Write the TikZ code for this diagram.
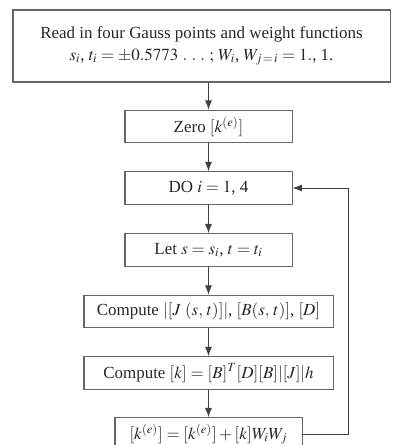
\documentclass[tikz,border=0pt]{standalone}
\usepackage{mathptmx}
\usepackage{fontspec}
\setmainfont{Liberation Serif}
\usetikzlibrary{arrows.meta}

\begin{document}
\begin{tikzpicture}[x=0.0224cm, y=-0.0224cm,
    flowbox/.style={draw=black!60, line width=0.65pt, align=center, inner sep=2pt, text=black!85,
                    font=\fontsize{10.8}{14}\selectfont},
    flowarrow/.style={draw=black!75, line width=0.6pt, -{Latex[length=6pt,width=4.5pt]}}]
              \useasboundingbox (0,0) rectangle (393,445);

              % boxes, top to bottom
              \node [flowbox, minimum width=8.445cm, minimum height=1.613cm] (read) at (201.5,46)
                {Read in four Gauss points and weight functions\\
                 $s_i$, $t_i = \pm 0.5773\ .\ .\ .\ ;$ $W_i$, $W_{j\,=\,i} = 1.$, 1.};
              \node [flowbox, minimum width=3.741cm, minimum height=0.728cm] (zero) at (208.5,126.5) {Zero $[k^{(e)}]$};
              \node [flowbox, minimum width=3.741cm, minimum height=0.728cm] (doloop) at (208.5,188) {DO $i = 1$, 4};
              \node [flowbox, minimum width=3.741cm, minimum height=0.728cm] (let) at (208.5,250) {Let $s = s_i$, $t = t_i$};
              \node [flowbox, minimum width=5.578cm, minimum height=0.728cm] (jacob) at (208.5,311.5)
                {Compute $|[J\ (s,\,t)]|$, $[B(s,\,t)]$, $[D]$};
              \node [flowbox, minimum width=5.578cm, minimum height=0.728cm] (stiff) at (208.5,373)
                {Compute $[k] = [B]^T[D][B]|[J]|h$};
              \node [flowbox, minimum width=4.189cm, minimum height=0.728cm] (sum) at (208.5,434)
                {$[k^{(e)}] = [k^{(e)}] + [k]W_iW_j$};

              % arrows down
              \draw [flowarrow] (read.south -| zero.north) -- (zero);
              \draw [flowarrow] (zero) -- (doloop);
              \draw [flowarrow] (doloop) -- (let);
              \draw [flowarrow] (let) -- (jacob);
              \draw [flowarrow] (jacob) -- (stiff);
              \draw [flowarrow] (stiff) -- (sum);

              % loop back
              \coordinate (back) at (348,434);
              \draw [flowarrow] (sum.east) -- (back) |- (doloop.east);

            \end{tikzpicture}
\end{document}
